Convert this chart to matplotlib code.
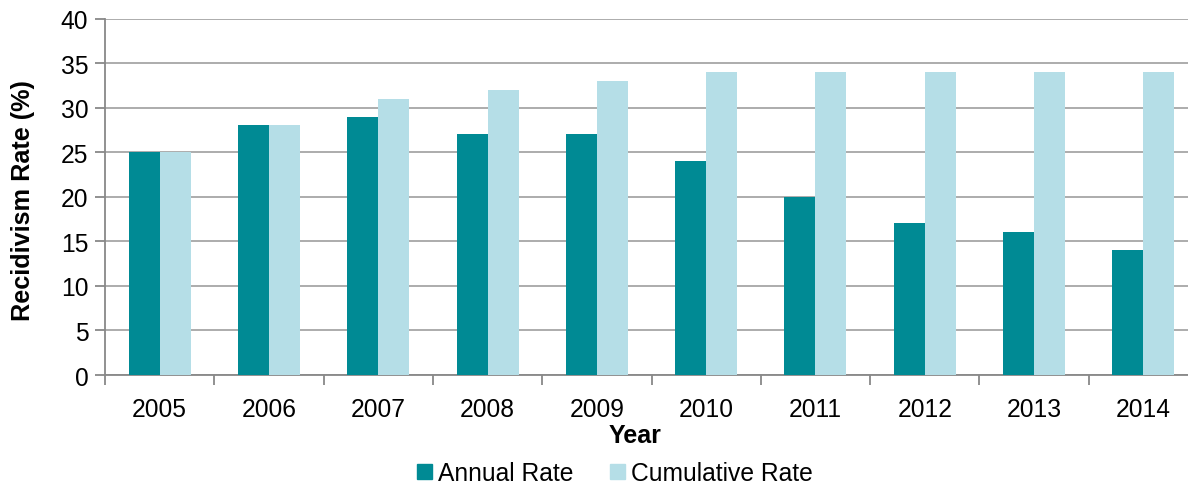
import matplotlib
matplotlib.use("Agg")
import matplotlib.pyplot as plt
import numpy as np
from matplotlib.patches import Patch

years = ["2005", "2006", "2007", "2008", "2009", "2010", "2011", "2012", "2013", "2014"]
annual = [25, 28, 29, 27, 27, 24, 20, 17, 16, 14]
cumulative = [25, 28, 31, 32, 33, 34, 34, 34, 34, 34]
yticks = [0, 5, 10, 15, 20, 25, 30, 35, 40]

plt.rcParams['font.family'] = ['Liberation Sans', 'DejaVu Sans']

W, H = 1188, 485
fig = plt.figure(figsize=(W / 100, H / 100), dpi=100)
ax = fig.add_axes([105 / W, 1 - 376 / H, (1198 - 105) / W, (376 - 19.5) / H])

c_annual = "#008A94"
c_cum = "#B5DEE7"
grid_c = "#A6A6A6"

x = np.arange(len(years))
bw = 0.284
ax.bar(x - bw / 2, annual, bw, color=c_annual, zorder=3)
ax.bar(x + bw / 2, cumulative, bw, color=c_cum, zorder=3)

ax.set_xlim(-0.5, len(years) - 0.5)
ax.set_ylim(0, 40)
ax.set_yticks(yticks)
ax.yaxis.grid(True, color=grid_c, linewidth=1.3, zorder=0)
ax.set_axisbelow(True)

for s in ["top", "right"]:
    ax.spines[s].set_visible(False)
for s in ["left", "bottom"]:
    ax.spines[s].set_color("#888888")
    ax.spines[s].set_linewidth(1.3)

ax.set_xticks(x)
ax.set_xticklabels(years)
ax.set_xticks(np.arange(-0.5, len(years) + 0.5, 1), minor=True)
ax.tick_params(axis="x", which="major", length=0, labelsize=17.7, pad=16)
ax.tick_params(axis="x", which="minor", length=7, width=1.3, color="#888888", direction="out")
ax.tick_params(axis="y", length=7, width=1.3, color="#888888", labelsize=17.7, pad=5)

fig.text(635 / W, 1 - 436 / H, "Year", ha="center", va="center", fontsize=18, fontweight="bold")
fig.text(23 / W, 1 - 201 / H, "Recidivism Rate (%)", ha="center", va="center",
         rotation=90, fontsize=18.2, fontweight="bold")

handles = [Patch(color=c_annual, label="Annual Rate"), Patch(color=c_cum, label="Cumulative Rate")]
fig.legend(handles=handles, loc="center", bbox_to_anchor=(615 / W, 1 - 474 / H), ncol=2,
           frameon=False, fontsize=17.7, handlelength=0.6, handleheight=0.6,
           handletextpad=0.25, columnspacing=1.5, borderaxespad=0, borderpad=0)

fig.savefig("out.png", dpi=100)
